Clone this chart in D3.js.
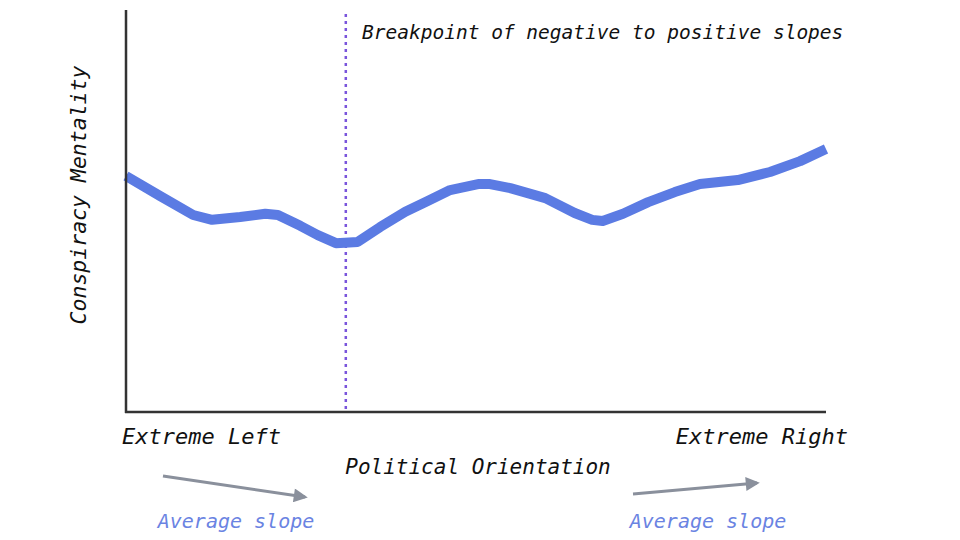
<!DOCTYPE html><html><head><meta charset="utf-8">
<script src="https://cdn.jsdelivr.net/npm/d3@7"></script>
<style>body{margin:0;background:#fff}text{font-family:"Comic Sans MS","DejaVu Sans Mono",monospace;font-style:italic}</style></head><body>
<svg id="c" width="960" height="540"></svg>
<script>
const orientation=[0,4.9,9.6,12.3,16.3,19.9,21.7,24.9,27.4,30,33.1,36.3,39.9,43.1,46.3,50.3,52,54.9,59.9,64.1,66.6,68.1,71,74.6,78.4,82,87.4,92,96.3,100];
const mentality=[58.7,53.7,49,47.8,48.5,49.3,49,46.3,44,42,42.3,46,49.8,52.5,55.2,56.7,56.7,55.7,53.2,49.5,47.8,47.5,49.3,52.2,54.7,56.7,57.7,59.7,62.4,65.4];
const breakpoint=31.4;
const svg=d3.select("#c");
const x=d3.scaleLinear().domain([0,100]).range([126,826]);
const y=d3.scaleLinear().domain([0,100]).range([412,10]);
svg.append("defs").append("marker").attr("id","ah").attr("viewBox","0 0 10 10").attr("refX",8).attr("refY",5)
 .attr("orient","auto").attr("markerUnits","userSpaceOnUse")
 .attr("markerWidth",16).attr("markerHeight",14)
 .append("path").attr("d","M0,0L10,5L0,10z").attr("fill","#8a909c");
svg.append("line").attr("x1",x(breakpoint)).attr("x2",x(breakpoint)).attr("y1",14).attr("y2",412)
 .attr("stroke","#7a55dc").attr("stroke-width",2.5).attr("stroke-dasharray","3,4");
svg.append("path").datum(orientation.map((o,i)=>[o,mentality[i]]))
 .attr("d",d3.line().x(d=>x(d[0])).y(d=>y(d[1])))
 .attr("fill","none").attr("stroke","#5b7be3").attr("stroke-width",10).attr("stroke-linejoin","round");
svg.append("line").attr("x1",126).attr("x2",126).attr("y1",10).attr("y2",413).attr("stroke","#333").attr("stroke-width",2.5);
svg.append("line").attr("x1",125).attr("x2",826).attr("y1",412).attr("y2",412).attr("stroke","#333").attr("stroke-width",2.5);
svg.append("text").attr("x",362).attr("y",39).attr("font-size",19.5).attr("fill","#111").text("Breakpoint of negative to positive slopes");
svg.append("text").attr("transform","translate(86,195) rotate(-90)").attr("text-anchor","middle").attr("font-size",21.5).attr("fill","#111").text("Conspiracy Mentality");
svg.append("text").attr("x",122).attr("y",444).attr("font-size",22).attr("fill","#111").text("Extreme Left");
svg.append("text").attr("x",848).attr("y",444).attr("text-anchor","end").attr("font-size",22).attr("fill","#111").text("Extreme Right");
svg.append("text").attr("x",478).attr("y",474).attr("text-anchor","middle").attr("font-size",21).attr("fill","#111").text("Political Orientation");
[[163,476,305,497,236],[633,494,757,483,708]].forEach(a=>{
 svg.append("line").attr("x1",a[0]).attr("y1",a[1]).attr("x2",a[2]).attr("y2",a[3]).attr("stroke","#8a909c").attr("stroke-width",3).attr("marker-end","url(#ah)");
 svg.append("text").attr("x",a[4]).attr("y",528).attr("text-anchor","middle").attr("font-size",20).attr("fill","#6a83e2").text("Average slope");
});
</script></body></html>
